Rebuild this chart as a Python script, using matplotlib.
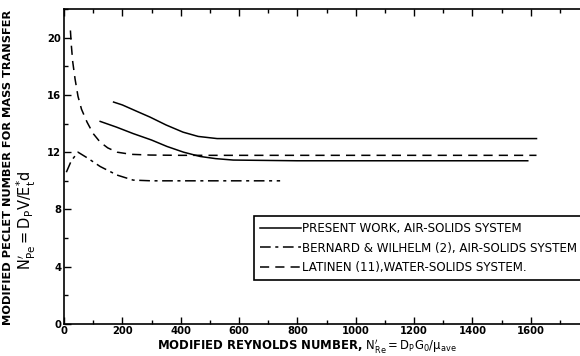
import matplotlib
matplotlib.use("Agg")
import matplotlib.pyplot as plt
from matplotlib.ticker import MultipleLocator

# --- data ---
present_hi_x = [170, 200, 250, 295, 350, 408, 460, 525, 600, 800, 1000, 1200, 1400, 1620]
present_hi_y = [15.5, 15.3, 14.85, 14.45, 13.9, 13.4, 13.1, 12.95, 12.95, 12.95, 12.95, 12.95, 12.95, 12.95]

present_lo_x = [124, 180, 237, 300, 353, 410, 467, 520, 580, 800, 1000, 1200, 1400, 1590]
present_lo_y = [14.15, 13.75, 13.3, 12.85, 12.4, 12.0, 11.7, 11.55, 11.45, 11.4, 11.4, 11.4, 11.4, 11.4]

bernard_x = [8, 25, 48, 80, 124, 182, 237, 300, 400, 500, 600, 741]
bernard_y = [10.6, 11.4, 12.0, 11.6, 11.0, 10.4, 10.05, 10.0, 10.0, 10.0, 10.0, 10.0]

latinen_x = [22, 25, 30, 38, 48, 60, 79, 100, 124, 150, 182, 230, 295, 400, 600, 1000, 1620]
latinen_y = [20.5, 19.5, 18.3, 17.1, 15.9, 15.0, 14.1, 13.3, 12.7, 12.3, 12.0, 11.85, 11.8, 11.78, 11.78, 11.78, 11.78]

labels = ["PRESENT WORK, AIR-SOLIDS SYSTEM",
          "BERNARD & WILHELM (2), AIR-SOLIDS SYSTEM",
          "LATINEN (11),WATER-SOLIDS SYSTEM."]

x_ticks = [0, 200, 400, 600, 800, 1000, 1200, 1400, 1600]
y_ticks = [0, 4, 8, 12, 16, 20]

fig = plt.figure(figsize=(5.8, 3.56), dpi=100)
W, H = 580, 356
ax = fig.add_axes([64 / W, 32 / H, 525 / W, 315 / H])

lw = 1.1
ax.plot(present_hi_x, present_hi_y, color="black", lw=lw, label=labels[0])
ax.plot(present_lo_x, present_lo_y, color="black", lw=lw)
ax.plot(bernard_x, bernard_y, color="black", lw=lw, linestyle=(0, (7, 3, 2, 3)), label=labels[1])
ax.plot(latinen_x, latinen_y, color="black", lw=lw, linestyle=(0, (6, 4)), label=labels[2])

ax.set_xlim(0, 1800)
ax.set_ylim(0, 22)
ax.set_xticks(x_ticks)
ax.set_yticks(y_ticks)
ax.xaxis.set_minor_locator(MultipleLocator(100))
ax.yaxis.set_minor_locator(MultipleLocator(2))
ax.tick_params(which="both", direction="in", top=True, right=True, labelsize=7.2, width=1.0)
ax.tick_params(which="major", length=5)
ax.tick_params(which="minor", length=3)
for lab in ax.get_xticklabels() + ax.get_yticklabels():
    lab.set_fontweight("bold")
ax.tick_params(axis="x", pad=1.5)
ax.tick_params(axis="y", pad=2)
for s in ax.spines.values():
    s.set_linewidth(1.2)

leg = ax.legend(loc="lower left", bbox_to_anchor=(0.362, 0.139), fontsize=8.6,
                handlelength=3.4, handletextpad=0.1, borderpad=0.5, labelspacing=0.55,
                frameon=True, fancybox=False, edgecolor="black", framealpha=1,
                borderaxespad=0)
leg.get_frame().set_linewidth(1.2)

fig.text(8 / W, 1 - 167 / H, "MODIFIED PECLET NUMBER FOR MASS TRANSFER", rotation=90,
         ha="center", va="center", fontsize=8.2, fontweight="bold")
fig.text(26 / W, 1 - 220 / H, r"$\mathrm{N^{\prime}_{Pe}=D_{P}V/E^{*}_{t}d}$", rotation=90,
         ha="center", va="center", fontsize=10.5)
fig.text(307 / W, 1 / H,
         r"MODIFIED REYNOLDS NUMBER, $\mathrm{N^{\prime}_{Re}=D_{P}G_{0}/\mu_{ave}}$",
         ha="center", va="bottom", fontsize=8.4, fontweight="bold")

fig.savefig("out.png", dpi=100)
